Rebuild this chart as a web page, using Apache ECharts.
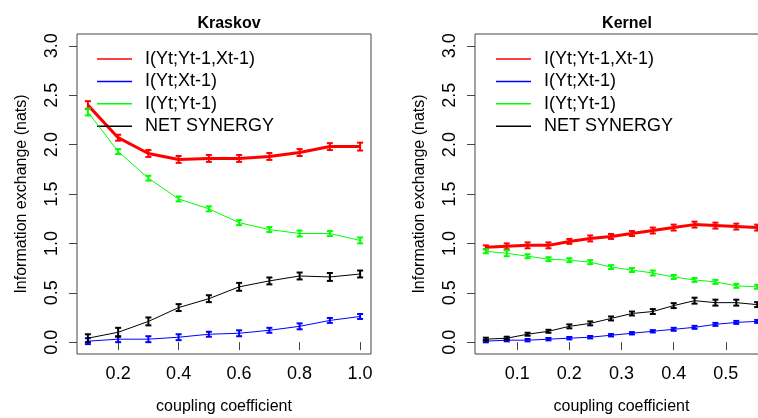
<!DOCTYPE html>
<html>
<head>
<meta charset="utf-8">
<script src="https://cdn.jsdelivr.net/npm/echarts@6/dist/echarts.min.js"></script>
<style>
html, body { margin: 0; padding: 0; background: #fff; overflow: hidden; }
#chart { width: 758px; height: 418px; }
</style>
</head>
<body>
<div id="chart"></div>
<script>
// 数据
var names = ['I(Yt;Yt-1,Xt-1)', 'I(Yt;Xt-1)', 'I(Yt;Yt-1)', 'NET SYNERGY'];
var colors = ['#ff0000', '#0000ff', '#00ff00', '#000000'];

var kraskovX = [0.1, 0.2, 0.3, 0.4, 0.5, 0.6, 0.7, 0.8, 0.9, 1.0];
var kraskovJoint = [2.40, 2.07, 1.91, 1.85, 1.86, 1.86, 1.88, 1.92, 1.98, 1.98];
var kraskovX1 = [0.01, 0.03, 0.03, 0.05, 0.08, 0.09, 0.12, 0.16, 0.22, 0.26];
var kraskovY1 = [2.33, 1.93, 1.66, 1.45, 1.35, 1.21, 1.14, 1.10, 1.10, 1.03];
var kraskovNet = [0.04, 0.10, 0.21, 0.35, 0.44, 0.56, 0.62, 0.67, 0.66, 0.69];
var kraskovJointErr = [0.04, 0.03, 0.035, 0.035, 0.035, 0.035, 0.035, 0.035, 0.035, 0.04];
var kraskovX1Err = [0.03, 0.03, 0.03, 0.03, 0.025, 0.03, 0.025, 0.03, 0.025, 0.025];
var kraskovY1Err = [0.035, 0.025, 0.025, 0.025, 0.025, 0.025, 0.025, 0.03, 0.025, 0.03];
var kraskovNetErr = [0.04, 0.045, 0.04, 0.035, 0.035, 0.04, 0.035, 0.035, 0.04, 0.035];

var kernelX = [0.04, 0.08, 0.12, 0.16, 0.20, 0.24, 0.28, 0.32, 0.36, 0.40, 0.44, 0.48, 0.52, 0.56];
var kernelJoint = [0.96, 0.97, 0.98, 0.98, 1.02, 1.05, 1.07, 1.10, 1.13, 1.16, 1.19, 1.18, 1.17, 1.16];
var kernelX1 = [0.01, 0.02, 0.02, 0.03, 0.04, 0.05, 0.07, 0.09, 0.11, 0.13, 0.15, 0.18, 0.20, 0.21];
var kernelY1 = [0.92, 0.90, 0.87, 0.84, 0.83, 0.81, 0.76, 0.73, 0.70, 0.66, 0.63, 0.61, 0.57, 0.56];
var kernelNet = [0.03, 0.04, 0.08, 0.11, 0.16, 0.19, 0.24, 0.29, 0.31, 0.37, 0.42, 0.40, 0.40, 0.38];
var kernelJointErr = [0.02, 0.03, 0.03, 0.03, 0.025, 0.03, 0.025, 0.025, 0.03, 0.03, 0.03, 0.03, 0.03, 0.03];
var kernelX1Err = [0.012, 0.012, 0.012, 0.012, 0.012, 0.012, 0.012, 0.012, 0.012, 0.015, 0.015, 0.015, 0.015, 0.015];
var kernelY1Err = [0.02, 0.03, 0.02, 0.02, 0.02, 0.02, 0.02, 0.02, 0.025, 0.02, 0.02, 0.02, 0.02, 0.02];
var kernelNetErr = [0.015, 0.015, 0.015, 0.015, 0.02, 0.02, 0.02, 0.02, 0.025, 0.025, 0.03, 0.03, 0.03, 0.025];

var yTicks = [0, 0.5, 1.0, 1.5, 2.0, 2.5, 3.0];
var kraskovTicks = [0.2, 0.4, 0.6, 0.8, 1.0];
var kernelTicks = [0.1, 0.2, 0.3, 0.4, 0.5];

var fontFamily = 'Liberation Sans, Arial, sans-serif';
var frameColor = '#444';

function pairs(xs, ys) {
    return xs.map(function (x, i) { return [x, ys[i]]; });
}

//折线
function lineSeries(idx, panel, xs, ys) {
    return {
        name: names[idx],
        type: 'line',
        xAxisIndex: panel,
        yAxisIndex: panel,
        data: pairs(xs, ys),
        symbol: 'none',
        color: colors[idx],
        lineStyle: { color: colors[idx], width: idx === 0 ? 3 : 1 },
        z: 2 + idx * 2
    };
}

//误差线 (放在前面, 图例取它的颜色)
function errSeries(idx, panel, xs, ys, es) {
    var color = colors[idx];
    return {
        name: names[idx],
        type: 'custom',
        xAxisIndex: panel,
        yAxisIndex: panel,
        data: xs.map(function (x, i) { return [x, ys[i] - es[i], ys[i] + es[i]]; }),
        color: color,
        itemStyle: { color: color },
        z: 3 + idx * 2,
        renderItem: function (params, api) {
            var lo = api.coord([api.value(0), api.value(1)]);
            var hi = api.coord([api.value(0), api.value(2)]);
            var w = 3;
            var st = { stroke: color, lineWidth: 2 };
            return {
                type: 'group',
                children: [
                    { type: 'line', shape: { x1: lo[0], y1: lo[1], x2: hi[0], y2: hi[1] }, style: st },
                    { type: 'line', shape: { x1: lo[0] - w, y1: lo[1], x2: lo[0] + w, y2: lo[1] }, style: st },
                    { type: 'line', shape: { x1: hi[0] - w, y1: hi[1], x2: hi[0] + w, y2: hi[1] }, style: st }
                ]
            };
        }
    };
}

function xAxisOpt(panel, min, max, ticks) {
    return {
        type: 'value',
        gridIndex: panel,
        min: min,
        max: max,
        name: 'coupling coefficient',
        nameLocation: 'middle',
        nameGap: 45,
        nameTextStyle: { fontFamily: fontFamily, fontSize: 16, color: '#000' },
        axisLine: { show: false },
        axisTick: { show: true, length: 8, customValues: ticks, lineStyle: { color: frameColor } },
        axisLabel: {
            customValues: ticks,
            margin: 11,
            fontFamily: fontFamily,
            fontSize: 18,
            color: '#000',
            formatter: function (v) { return v.toFixed(1); }
        },
        splitLine: { show: false }
    };
}

function yAxisOpt(panel) {
    return {
        type: 'value',
        gridIndex: panel,
        min: -0.12,
        max: 3.12,
        name: 'Information exchange (nats)',
        nameLocation: 'middle',
        nameGap: 47,
        nameTextStyle: { fontFamily: fontFamily, fontSize: 16, color: '#000' },
        axisLine: { show: false },
        axisTick: { show: true, length: 8, customValues: yTicks, lineStyle: { color: frameColor } },
        axisLabel: {
            customValues: yTicks,
            rotate: 90,
            margin: 16,
            fontFamily: fontFamily,
            fontSize: 18,
            color: '#000',
            formatter: function (v) { return v.toFixed(1); }
        },
        splitLine: { show: false }
    };
}

function legendOpt(left) {
    return {
        left: left,
        top: 45,
        orient: 'vertical',
        data: names,
        icon: 'rect',
        itemWidth: 35,
        itemHeight: 1.5,
        itemGap: 4.4,
        selectedMode: false,
        itemStyle: { borderWidth: 0 },
        textStyle: { fontFamily: fontFamily, fontSize: 18, color: '#000', lineHeight: 18, padding: [0, 0, 0, 8] }
    };
}

var myChart = echarts.init(document.getElementById('chart'));
var option = {
    animation: false,
    backgroundColor: '#fff',
    title: [
        { text: 'Kraskov', left: 224, top: 11, textAlign: 'center',
          textStyle: { fontFamily: fontFamily, fontSize: 16, fontWeight: 'bold', color: '#000' } },
        { text: 'Kernel', left: 622, top: 11, textAlign: 'center',
          textStyle: { fontFamily: fontFamily, fontSize: 16, fontWeight: 'bold', color: '#000' } }
    ],
    legend: [legendOpt(92), legendOpt(491)],
    grid: [
        { left: 77, top: 34, width: 294, height: 320, outerBoundsMode: 'none', show: true, borderColor: frameColor, borderWidth: 1, backgroundColor: 'transparent' },
        { left: 475, top: 34, width: 293, height: 320, outerBoundsMode: 'none', show: true, borderColor: frameColor, borderWidth: 1, backgroundColor: 'transparent' }
    ],
    xAxis: [
        xAxisOpt(0, 0.064, 1.036, kraskovTicks),
        xAxisOpt(1, 0.0192, 0.5808, kernelTicks)
    ],
    yAxis: [yAxisOpt(0), yAxisOpt(1)],
    series: [
        errSeries(0, 0, kraskovX, kraskovJoint, kraskovJointErr),
        errSeries(1, 0, kraskovX, kraskovX1, kraskovX1Err),
        errSeries(2, 0, kraskovX, kraskovY1, kraskovY1Err),
        errSeries(3, 0, kraskovX, kraskovNet, kraskovNetErr),
        lineSeries(0, 0, kraskovX, kraskovJoint),
        lineSeries(1, 0, kraskovX, kraskovX1),
        lineSeries(2, 0, kraskovX, kraskovY1),
        lineSeries(3, 0, kraskovX, kraskovNet),
        errSeries(0, 1, kernelX, kernelJoint, kernelJointErr),
        errSeries(1, 1, kernelX, kernelX1, kernelX1Err),
        errSeries(2, 1, kernelX, kernelY1, kernelY1Err),
        errSeries(3, 1, kernelX, kernelNet, kernelNetErr),
        lineSeries(0, 1, kernelX, kernelJoint),
        lineSeries(1, 1, kernelX, kernelX1),
        lineSeries(2, 1, kernelX, kernelY1),
        lineSeries(3, 1, kernelX, kernelNet)
    ]
};
myChart.setOption(option, true);
window.onresize = function () {
    myChart.resize();
};
</script>
</body>
</html>
